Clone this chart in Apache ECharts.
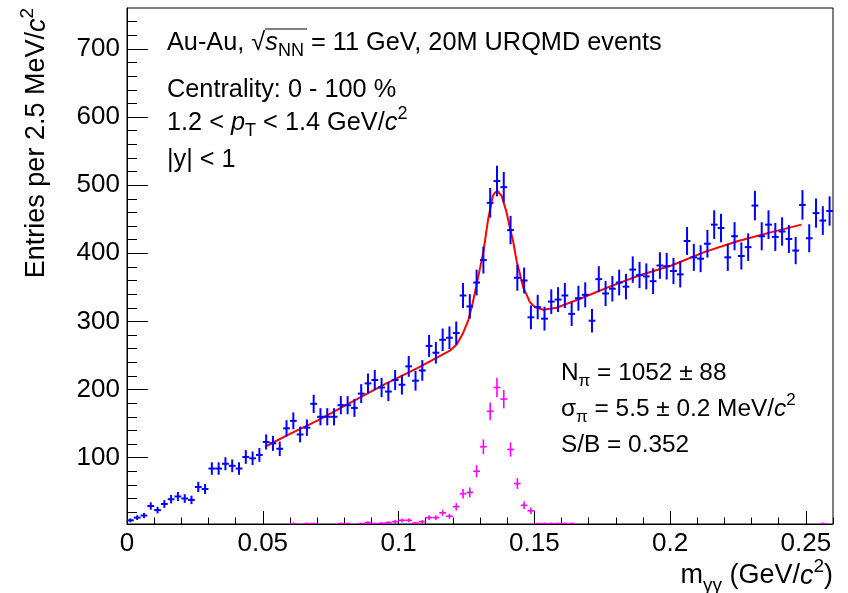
<!DOCTYPE html>
<html><head><meta charset="utf-8">
<script src="https://cdn.jsdelivr.net/npm/echarts@6/dist/echarts.min.js"></script>
<style>html,body{margin:0;padding:0;background:#fff}#c{width:848px;height:593px}</style>
</head><body><div id="c"></div>
<script>
// ---------- data ----------
const binWidth = 0.0025;           // 2.5 MeV/c^2 bins
const blueCounts = [8,12,15,29,23,32,39,43,40,38,57,54,84,84,91,88,84,101,99,104,
  123,121,113,143,154,134,144,179,160,160,160,177,177,173,194,209,214,203,197,214,
  207,234,213,228,264,254,273,276,283,338,322,357,390,474,506,497,434,364,360,306,
  321,304,329,332,338,311,334,339,301,362,341,348,357,351,376,368,366,359,382,381,
  374,369,418,394,392,414,442,437,394,425,396,409,470,425,442,424,432,421,404,471,
  422,459,448,462];
const magentaBins =   [24,26,27,31,32,34,35,36,37,38,39,40,41,42,43,44,45,46,47,48,49,50,51,52,53,54,55,56,57,58,59,60,61,62,63,64,65,102];
const magentaCounts = [3,3,3,3,3,3,4.5,3,3.5,4.5,6,8,8,4,6,12,12,19,14,28,47,49,80,116,168,203,186,112,62,30,22,3,3,3,3,3,3,3];
const fitX = [0.0508,0.0600,0.0705,0.0828,0.0950,0.1073,0.1189,0.1214,0.1238,0.1257,0.1272,0.1288,
  0.1312,0.1330,0.1347,0.1355,0.1365,0.1380,0.1386,0.1398,0.1410,0.1422,0.1435,0.1447,0.1459,0.1472,
  0.1484,0.1502,0.1533,0.1582,0.1680,0.1778,0.1883,0.2005,0.2128,0.2251,0.2374,0.2484];
const fitY = [116,135,155,182,208,232,257,266,283,302,325,355,
  401,450,484,489,491,484,476,460,437,418,388,370,350,339,
  328,321,317,320,335,351,367,382,402,418,431,442];
const xMajorTicks = [0,0.05,0.1,0.15,0.2,0.25];
const xMinorTicks = [0,0.01,0.02,0.03,0.04,0.05,0.06,0.07,0.08,0.09,0.1,0.11,0.12,0.13,0.14,0.15,0.16,0.17,0.18,0.19,0.2,0.21,0.22,0.23,0.24,0.25,0.26];
const yMajorTicks = [100,200,300,400,500,600,700];
const yMinorTicks = [20,40,60,80,100,120,140,160,180,200,220,240,260,280,300,320,340,360,380,400,420,440,460,480,500,520,540,560,580,600,620,640,660,680,700,720,740];
const xRange = [0, 0.26];
const yRange = [2.6, 760];

// ---------- chart ----------
const FONT = "'Liberation Sans', Arial, Helvetica, sans-serif";
const chart = echarts.init(document.getElementById('c'), null, {renderer: 'canvas'});

function histData(bins, counts) {
  return bins.map((b, k) => [(b + 0.5) * binWidth, counts[k], Math.sqrt(counts[k])]);
}
const blueData = histData(blueCounts.map((_, i) => i), blueCounts);
const magentaData = histData(magentaBins, magentaCounts);

function errRender(color, lw) {
  return function (params, api) {
    const x = api.value(0), y = api.value(1), e = api.value(2);
    const c = api.coord([x, y]);
    const l = api.coord([x - binWidth / 2, y]);
    const r = api.coord([x + binWidth / 2, y]);
    const t = api.coord([x, y + e]);
    const b = api.coord([x, y - e]);
    const st = {stroke: color, lineWidth: lw};
    return {type: 'group', children: [
      {type: 'line', shape: {x1: l[0], y1: c[1], x2: r[0], y2: c[1]}, style: st},
      {type: 'line', shape: {x1: c[0], y1: t[1], x2: c[0], y2: b[1]}, style: st}
    ]};
  };
}

function makeRich(fs, lh, sfs) {
  return {
    n: {fontSize: fs, fontFamily: FONT, color: '#000', lineHeight: lh, verticalAlign: 'middle'},
    i: {fontSize: fs, fontFamily: FONT, color: '#000', lineHeight: lh, verticalAlign: 'middle', fontStyle: 'italic'},
    sub: {fontSize: sfs, fontFamily: FONT, color: '#000', lineHeight: sfs, verticalAlign: 'bottom'},
    sup: {fontSize: sfs, fontFamily: FONT, color: '#000', lineHeight: sfs, verticalAlign: 'top'}
  };
}
const richTL = makeRich(25.3, 35, 18);
const richBR = makeRich(24.4, 34, 17);
const richT = makeRich(27, 38, 19);

function txt(x, y, text, rich) {
  return {type: 'text', x: x, y: y, silent: true,
    style: {text: text, rich: rich, align: 'left', verticalAlign: 'middle'}};
}

const gridPos = {left: 127, right: 15, top: 8, bottom: 69};

chart.setOption({
  backgroundColor: '#fff',
  animation: false,
  grid: [
    Object.assign({show: true, borderColor: '#000', borderWidth: 1, backgroundColor: 'transparent'}, gridPos),
    Object.assign({show: false}, gridPos)
  ],
  xAxis: [
    {type: 'value', gridIndex: 0, min: xRange[0], max: xRange[1], position: 'bottom',
     axisLine: {show: true, onZero: false, lineStyle: {color: '#000', width: 1}},
     axisTick: {show: true, inside: true, length: 13, customValues: xMajorTicks, lineStyle: {color: '#000', width: 1}},
     axisLabel: {show: true, customValues: xMajorTicks, fontSize: 26, fontFamily: FONT, color: '#000', margin: 7},
     splitLine: {show: false}},
    {type: 'value', gridIndex: 1, min: xRange[0], max: xRange[1], position: 'bottom',
     axisLine: {show: false},
     axisTick: {show: true, inside: true, length: 6.5, customValues: xMinorTicks, lineStyle: {color: '#000', width: 1}},
     axisLabel: {show: false}, splitLine: {show: false}}
  ],
  yAxis: [
    {type: 'value', gridIndex: 0, min: yRange[0], max: yRange[1], position: 'left',
     axisLine: {show: true, onZero: false, lineStyle: {color: '#000', width: 1}},
     axisTick: {show: true, inside: true, length: 21, customValues: yMajorTicks, lineStyle: {color: '#000', width: 1}},
     axisLabel: {show: true, customValues: yMajorTicks, fontSize: 26, fontFamily: FONT, color: '#000', margin: 7},
     splitLine: {show: false}},
    {type: 'value', gridIndex: 1, min: yRange[0], max: yRange[1], position: 'left',
     axisLine: {show: false},
     axisTick: {show: true, inside: true, length: 10, customValues: yMinorTicks, lineStyle: {color: '#000', width: 1}},
     axisLabel: {show: false}, splitLine: {show: false}}
  ],
  series: [
    {type: 'custom', name: 'magenta', xAxisIndex: 0, yAxisIndex: 0, clip: true,
     renderItem: errRender('#ff00ff', 1.6), data: magentaData, z: 3},
    {type: 'line', name: 'fit', xAxisIndex: 0, yAxisIndex: 0, showSymbol: false, symbol: 'none',
     data: fitX.map((x, k) => [x, fitY[k]]), lineStyle: {color: '#ff0000', width: 2}, z: 4, clip: true},
    {type: 'custom', name: 'data', xAxisIndex: 0, yAxisIndex: 0, clip: true,
     renderItem: errRender('#0000ff', 2), data: blueData, z: 5}
  ],
  graphic: [
    txt(167, 43, '{n|Au-Au, √}{i|s}{sub|NN}{n| = 11 GeV, 20M URQMD events}', richTL),
    {type: 'line', silent: true, shape: {x1: 265, y1: 29, x2: 307, y2: 29}, style: {stroke: '#000', lineWidth: 1.2}},
    txt(167, 90, '{n|Centrality: 0 - 100 %}', richTL),
    txt(167, 123, '{n|1.2 < }{i|p}{sub|T}{n| < 1.4 GeV/}{i|c}{sup|2}', richTL),
    txt(167, 160, '{n||y| < 1}', richTL),
    txt(561, 373, '{n|N}{sub|π}{n| = 1052 ± 88}', richBR),
    txt(561, 409, '{n|σ}{sub|π}{n| = 5.5 ± 0.2 MeV/}{i|c}{sup|2}', richBR),
    txt(561, 445, '{n|S/B = 0.352}', richBR),
    {type: 'text', x: 833, y: 576, silent: true,
     style: {text: '{n|m}{sub|γγ}{n| (GeV/}{i|c}{sup|2}{n|)}', rich: richT, align: 'right', verticalAlign: 'middle'}},
    {type: 'text', x: 37, y: 8, rotation: Math.PI / 2, silent: true,
     style: {text: '{n|Entries per 2.5 MeV/}{i|c}{sup|2}', rich: richT, align: 'right', verticalAlign: 'middle'}}
  ]
});
</script></body></html>
